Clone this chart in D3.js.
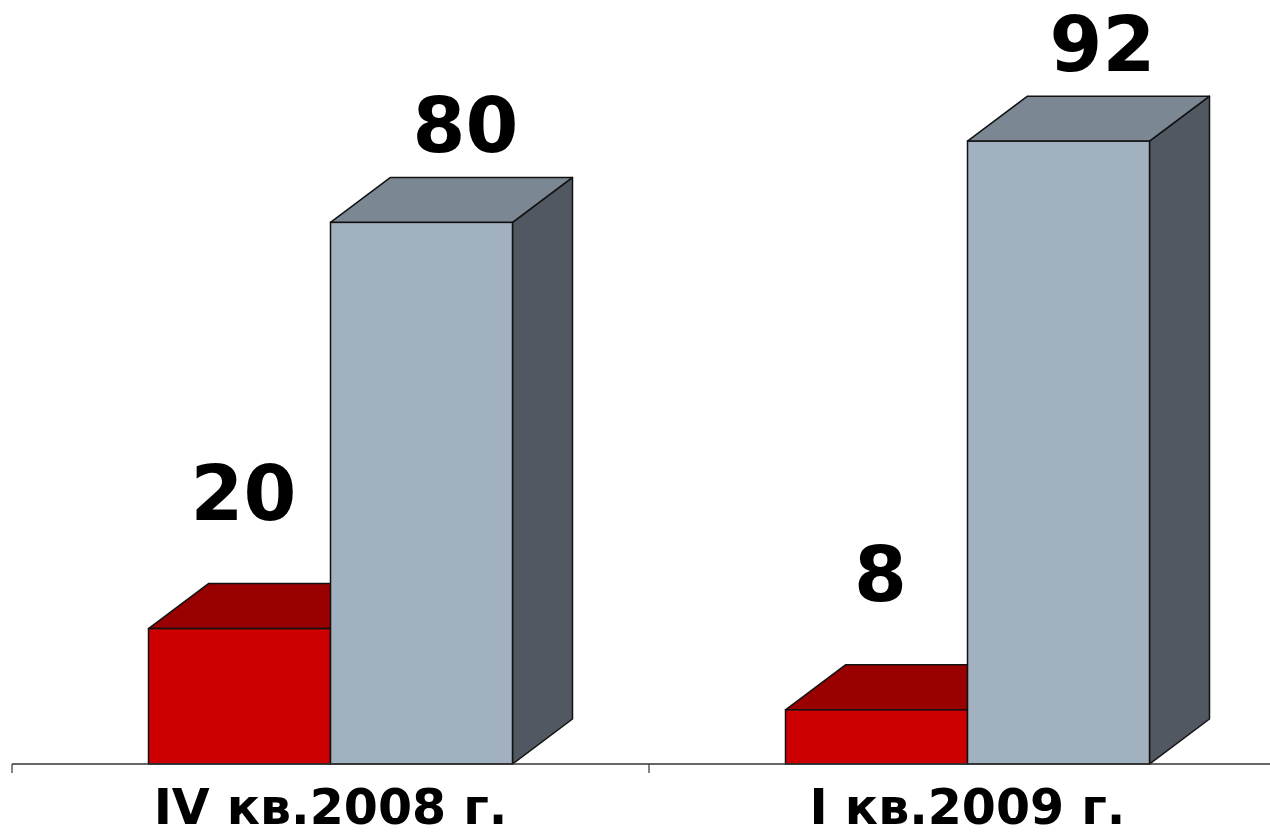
<!DOCTYPE html>
<html>
<head>
<meta charset="utf-8">
<script src="https://cdn.jsdelivr.net/npm/d3@7"></script>
<style>
  body { margin: 0; background: #fff; }
  svg { display: block; font-family: "DejaVu Sans", Verdana, sans-serif; }
</style>
</head>
<body>
<svg id="chart" width="1270" height="837"></svg>
<script>
// data
const categories = ["IV кв.2008 г.", "I кв.2009 г."];
const seriesNames = ["red", "grey"];
const redValues = [20, 8];
const greyValues = [80, 92];

const W = 1270, H = 837;
const baseY = 764;
const depthX = 60, depthY = 45;

// colours for front / top / side faces
const palette = {
    red:  { front: "#cc0000", top: "#990000", side: "#6e0000" },
    grey: { front: "#a2b1c0", top: "#7b8792", side: "#525861" }
};
// label nudges per series (Excel puts them loosely above the bar)
const labelShift = {
    red:  { dx: 4, dy: 109 },
    grey: { dx: 44, dy: 70 }
};

const svg = d3.select("#chart");

const x0 = d3.scaleBand()
    .domain(categories)
    .range([12, 1286])
    .paddingInner(0)
    .paddingOuter(0);

const x1 = d3.scaleBand()
    .domain(seriesNames)
    .range([0, x0.bandwidth()])
    .paddingInner(0)
    .paddingOuter(0.75);

const y = d3.scaleLinear()
    .domain([0, 100])
    .range([baseY, baseY - 677]);

const bars = [];
categories.forEach(function(c, i) {
    bars.push({ cat: c, s: "red", v: redValues[i] });
    bars.push({ cat: c, s: "grey", v: greyValues[i] });
});

const g = svg.append("g");

bars.forEach(function(d) {
    const xl = x0(d.cat) + x1(d.s);
    const xr = xl + x1.bandwidth();
    const yt = y(d.v);
    const col = palette[d.s];
    const bar = g.append("g").attr("class", "bar");

    // side face
    bar.append("path")
        .attr("d", "M" + xr + "," + baseY +
            " L" + (xr + depthX) + "," + (baseY - depthY) +
            " L" + (xr + depthX) + "," + (yt - depthY) +
            " L" + xr + "," + yt + " Z")
        .attr("fill", col.side)
        .attr("stroke", "#111").attr("stroke-width", 1.5)
        .attr("stroke-linejoin", "round");
    // top face
    bar.append("path")
        .attr("d", "M" + xl + "," + yt +
            " L" + (xl + depthX) + "," + (yt - depthY) +
            " L" + (xr + depthX) + "," + (yt - depthY) +
            " L" + xr + "," + yt + " Z")
        .attr("fill", col.top)
        .attr("stroke", "#111").attr("stroke-width", 1.5)
        .attr("stroke-linejoin", "round");
    // front face
    bar.append("rect")
        .attr("x", xl).attr("y", yt)
        .attr("width", x1.bandwidth()).attr("height", baseY - yt)
        .attr("fill", col.front)
        .attr("stroke", "#111").attr("stroke-width", 1.5);
});

// axis line + ticks
const axis = svg.append("g").attr("transform", "translate(0," + baseY + ")");
axis.append("line")
    .attr("x1", x0.range()[0]).attr("x2", W)
    .attr("y1", 0).attr("y2", 0)
    .attr("stroke", "#333").attr("stroke-width", 1.5);
axis.selectAll(".tick")
    .data(categories.concat(["end"]))
    .enter().append("line")
    .attr("x1", function(d, i) { return x0.range()[0] + i * x0.bandwidth(); })
    .attr("x2", function(d, i) { return x0.range()[0] + i * x0.bandwidth(); })
    .attr("y1", 0).attr("y2", 9)
    .attr("stroke", "#333").attr("stroke-width", 1.2);

// category labels
svg.selectAll(".cat")
    .data(categories)
    .enter().append("text")
    .attr("class", "cat")
    .attr("x", function(d) { return x0(d) + x0.bandwidth() / 2; })
    .attr("y", 824)
    .attr("text-anchor", "middle")
    .attr("font-size", 49)
    .attr("font-weight", "bold")
    .attr("fill", "#000")
    .text(function(d) { return d; });

// value labels
svg.selectAll(".val")
    .data(bars)
    .enter().append("text")
    .attr("class", "val")
    .attr("x", function(d) {
        return x0(d.cat) + x1(d.s) + x1.bandwidth() / 2 + labelShift[d.s].dx;
    })
    .attr("y", function(d) { return y(d.v) - labelShift[d.s].dy; })
    .attr("text-anchor", "middle")
    .attr("font-size", 76)
    .attr("font-weight", "bold")
    .attr("fill", "#000")
    .text(function(d) { return d.v; });
</script>
</body>
</html>
